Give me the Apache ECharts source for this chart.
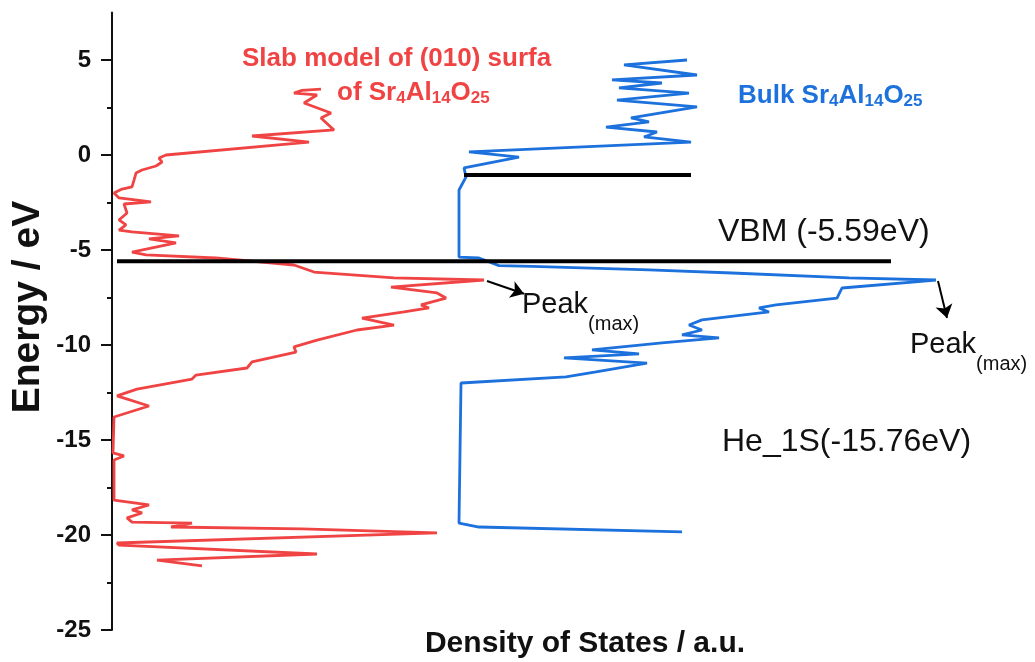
<!DOCTYPE html>
<html>
<head>
<meta charset="utf-8">
<script src="https://cdn.jsdelivr.net/npm/echarts@6/dist/echarts.min.js"></script>
<style>
  html, body { margin: 0; padding: 0; background: #fff; }
  #chart { width: 1035px; height: 662px; }
</style>
</head>
<body>
<div id="chart"></div>
<script>
// Slab model of the (010) surface: energy (eV) and DOS (a.u.), traced from top to bottom
const slabEnergy = [3.47, 3.40, 3.26, 3.16, 2.74, 2.21, 1.95, 1.32, 1.00, 0.68, 0.00, -0.16, -0.37, -0.58, -0.79, -0.95,
  -1.32, -1.68, -1.79, -2.00, -2.26, -2.47, -2.58, -3.05, -3.42, -3.68, -3.95, -4.05, -4.26, -4.42, -4.63, -5.11,
  -5.26, -5.42, -5.79, -6.16, -6.47, -6.58, -6.95, -7.26, -7.53, -7.89, -8.05, -8.26, -8.58, -8.95, -9.21, -9.74,
  -10.10, -10.37, -10.89, -11.21, -11.58, -11.79, -12.32, -12.68, -13.21, -13.79, -15.68, -15.84, -16.05, -18.16,
  -18.42, -18.68, -18.84, -19.10, -19.32, -19.37, -19.58, -19.68, -19.89, -20.42, -20.53, -21.00, -21.32, -21.63];
const slabDos = [20.9, 19.0, 18.2, 20.5, 19.2, 21.9, 20.9, 22.2, 14.0, 19.7, 5.4, 4.7, 5.0, 4.4, 3.0, 2.4,
  2.2, 2.0, 1.0, 0.2, 0.7, 3.9, 1.2, 1.5, 0.7, 1.4, 0.7, 2.0, 6.7, 3.7, 6.4, 2.0,
  3.4, 10.4, 18.2, 20.2, 28.2, 37.2, 27.9, 32.5, 33.4, 30.9, 31.7, 29.2, 25.0, 28.2, 24.5, 20.5,
  18.2, 18.4, 14.0, 13.5, 8.4, 8.0, 2.5, 0.5, 3.7, 0.2, 0.1, 1.2, 0.2, 0.2,
  3.7, 2.0, 3.0, 1.5, 2.0, 8.0, 5.9, 19.0, 32.5, 0.5, 0.7, 20.5, 4.5, 9.0];

// Bulk Sr4Al14O25: energy (eV) and DOS (a.u.)
const bulkEnergy = [5.00, 4.74, 4.21, 3.95, 3.79, 3.53, 3.26, 2.89, 2.53, 1.95, 1.74, 1.47, 1.21, 0.95, 0.68, 0.16,
  -0.11, -0.68, -1.16, -1.84, -5.37, -5.42, -5.82, -5.86, -6.05, -6.21, -6.47, -6.58, -7.00, -7.53, -7.89, -8.05,
  -8.26, -8.68, -8.95, -9.21, -9.47, -9.63, -9.89, -10.26, -10.47, -10.68, -10.95, -11.42, -11.68, -12.00, -19.37,
  -19.58, -19.84];
const bulkDos = [22.8, 16.5, 23.8, 15.3, 20.3, 16.0, 23.0, 15.8, 23.8, 17.2, 19.0, 14.7, 19.8, 18.5, 23.2, 1.0,
  6.0, 0.5, 0.7, 0.0, 0.0, 2.0, 4.0, 7.3, 19.0, 27.3, 39.0, 47.7, 38.3, 37.8, 31.7, 30.0,
  31.0, 24.3, 23.0, 24.3, 22.3, 26.0, 20.3, 13.3, 18.0, 10.5, 18.8, 13.7, 10.7, 0.2, 0.0,
  2.0, 22.3];
const bulkOffset = 34.7;   // horizontal shift of the bulk curve

// Reference levels
const vbmEnergy = -5.59;
const vbmSpan = [0.5, 77.9];
const cbmEnergy = -1.05;
const cbmSpan = [35.2, 57.9];
const heEnergy = -15.76;

// Axis ticks
const energyTicks = [-25, -20, -15, -10, -5, 0, 5];
const energyMinorTicks = [-22.5, -17.5, -12.5, -7.5, -2.5, 2.5];

const FONT = '"Liberation Sans", Arial, Helvetica, sans-serif';
const RED = '#f04444';
const BLUE = '#1c71dc';

const slabData = slabEnergy.map((e, i) => [slabDos[i], e]);
const bulkData = bulkEnergy.map((e, i) => [bulkDos[i] + bulkOffset, e]);

function peakOf(data) {
  return data.reduce((best, p) => (p[0] > best[0] ? p : best), data[0]);
}
const slabPeak = peakOf(slabData);
const bulkPeak = peakOf(bulkData);

// Rich text styles: main run top-aligned, subscript run bottom-aligned in a shared line box
function formulaStyles(color, main, small, lineHeight, weight) {
  return {
    m: { fontFamily: FONT, fontWeight: weight, fontSize: main, lineHeight: lineHeight, verticalAlign: 'top', fill: color, color: color },
    s: { fontFamily: FONT, fontWeight: weight, fontSize: small, lineHeight: lineHeight, verticalAlign: 'bottom', fill: color, color: color }
  };
}

const chart = echarts.init(document.getElementById('chart'), null, { renderer: 'canvas' });

chart.setOption({
  animation: false,
  backgroundColor: '#fff',
  grid: { left: 112, right: 23, top: 12.5, bottom: 32, containLabel: false },
  xAxis: {
    type: 'value', min: 0, max: 90,
    axisLine: { show: false }, axisTick: { show: false }, axisLabel: { show: false }, splitLine: { show: false }
  },
  yAxis: [{
    type: 'value', min: -25, max: 7.5, interval: 5,
    axisLine: { show: true, lineStyle: { color: '#111', width: 2 } },
    axisTick: { show: true, length: 11, customValues: energyTicks, lineStyle: { color: '#111', width: 2 } },
    axisLabel: {
      customValues: energyTicks, margin: 21, color: '#111',
      fontFamily: FONT, fontSize: 24, fontWeight: 'bold'
    },
    splitLine: { show: false }
  }, {
    type: 'value', min: -25, max: 7.5, position: 'left',
    axisLine: { show: false },
    axisTick: { show: true, length: 5, customValues: energyMinorTicks, lineStyle: { color: '#111', width: 2 } },
    axisLabel: { show: false },
    splitLine: { show: false }
  }],
  series: [
    {
      name: 'Slab', type: 'line', data: slabData, showSymbol: false, symbol: 'none',
      lineStyle: { color: RED, width: 2.8 }, z: 3
    },
    {
      name: 'Bulk', type: 'line', data: bulkData, showSymbol: false, symbol: 'none',
      lineStyle: { color: BLUE, width: 2.8 }, z: 3
    },
    {
      name: 'VBM', type: 'line', data: [[vbmSpan[0], vbmEnergy], [vbmSpan[1], vbmEnergy]], symbol: 'none',
      lineStyle: { color: '#000', width: 4 }, z: 4
    },
    {
      name: 'CBM', type: 'line', data: [[cbmSpan[0], cbmEnergy], [cbmSpan[1], cbmEnergy]], symbol: 'none',
      lineStyle: { color: '#000', width: 4 }, z: 4
    },
    {
      name: 'Peak arrows', type: 'lines', coordinateSystem: 'cartesian2d',
      symbol: ['none', 'arrow'], symbolSize: 13,
      lineStyle: { color: '#000', width: 2, opacity: 1 },
      data: [
        { coords: [[slabPeak[0] + 0.3, slabPeak[1] - 0.05], [slabPeak[0] + 4.0, slabPeak[1] - 0.72]] },
        { coords: [[bulkPeak[0] + 0.2, bulkPeak[1] - 0.05], [bulkPeak[0] + 1.1, bulkPeak[1] - 2.0]] }
      ],
      z: 5
    }
  ],
  graphic: [
    {
      type: 'text', position: [28, 307], rotation: Math.PI / 2,
      style: {
        text: 'Energy / eV', fill: '#111', align: 'center', verticalAlign: 'middle',
        font: 'bold 39px ' + FONT
      }
    },
    {
      type: 'text', position: [585, 644],
      style: {
        text: 'Density of States / a.u.', fill: '#111', align: 'center', verticalAlign: 'middle',
        font: 'bold 30px ' + FONT
      }
    },
    {
      type: 'text', position: [242, 59],
      style: {
        text: 'Slab model of (010) surfa', fill: RED, align: 'left', verticalAlign: 'middle',
        font: 'bold 26px ' + FONT
      }
    },
    {
      type: 'text', position: [337, 80],
      style: {
        text: '{m|of Sr}{s|4}{m|Al}{s|14}{m|O}{s|25}', align: 'left', verticalAlign: 'top',
        rich: formulaStyles(RED, 26, 17, 27, 'bold')
      }
    },
    {
      type: 'text', position: [738, 83],
      style: {
        text: '{m|Bulk Sr}{s|4}{m|Al}{s|14}{m|O}{s|25}', align: 'left', verticalAlign: 'top',
        rich: formulaStyles(BLUE, 26, 17, 27, 'bold')
      }
    },
    {
      type: 'text', position: [718, 232],
      style: {
        text: 'VBM (' + vbmEnergy.toFixed(2) + 'eV)', fill: '#111', align: 'left', verticalAlign: 'middle',
        font: '32px ' + FONT
      }
    },
    {
      type: 'text', position: [722, 442],
      style: {
        text: 'He_1S(' + heEnergy.toFixed(2) + 'eV)', fill: '#111', align: 'left', verticalAlign: 'middle',
        font: '32px ' + FONT
      }
    },
    {
      type: 'text', position: [522, 290],
      style: {
        text: '{m|Peak}{s|(max)}', align: 'left', verticalAlign: 'top',
        rich: formulaStyles('#111', 29, 20, 44, 'normal')
      }
    },
    {
      type: 'text', position: [910, 330],
      style: {
        text: '{m|Peak}{s|(max)}', align: 'left', verticalAlign: 'top',
        rich: formulaStyles('#111', 29, 20, 44, 'normal')
      }
    }
  ]
});
</script>
</body>
</html>
